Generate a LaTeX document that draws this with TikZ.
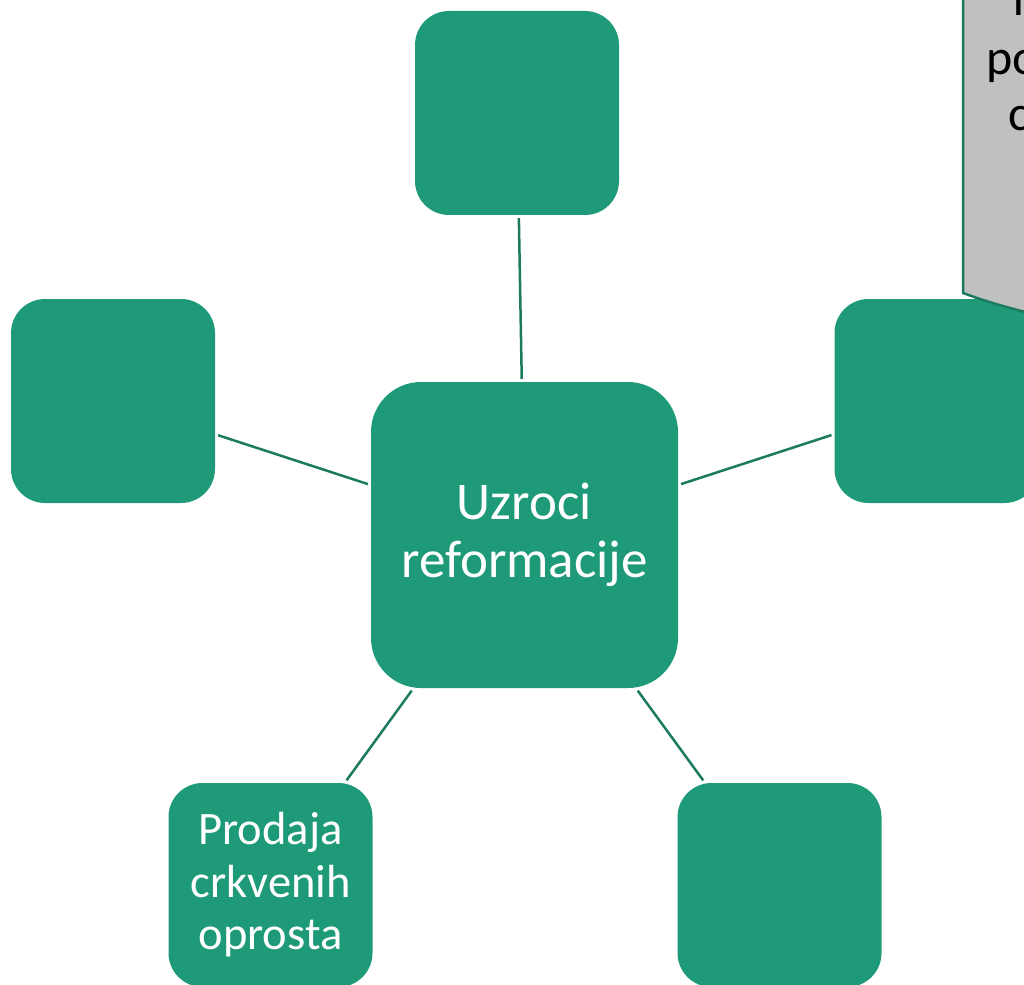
\documentclass[tikz,border=0pt]{standalone}
\usepackage{fontspec}
\setmainfont{Carlito}
\definecolor{boxgreen}{HTML}{1F9A78}
\definecolor{linegreen}{HTML}{1B7A5F}
\definecolor{callgrey}{HTML}{C0C0C0}
\begin{document}
\begin{tikzpicture}[x=1pt,y=-1pt,
  box/.style={fill=boxgreen, draw=none, rounded corners=34pt, minimum width=204pt, minimum height=204pt, inner sep=0pt, text=white, align=center, font=\fontsize{46.5}{52.5}\selectfont},
  hub/.style={box, minimum width=307pt, minimum height=306pt, rounded corners=50pt, font=\fontsize{53}{58}\selectfont},
  link/.style={draw=linegreen, line width=2.5pt, shorten >=3pt, shorten <=3pt},
  calltext/.style={anchor=base west, inner sep=0pt, text=black, font=\fontsize{50}{57}\selectfont}]
\useasboundingbox (0,0) rectangle (1024,984);
\clip (0,0) rectangle (1024,984);
\node[hub] (hub) at (524.5,535) {Uzroci\\reformacije};
\node[box] (top) at (517,113) {};
\node[box] (left) at (113,401) {};
\node[box] (right) at (936.5,401) {};
\node[box] (bl) at (270.5,885) {Prodaja\\crkvenih\\oprosta};
\node[box] (br) at (779.5,885) {};
\draw[link] (top) -- (hub);
\draw[link] (left) -- (hub);
\draw[link] (right) -- (hub);
\draw[link] (bl) -- (hub);
\draw[link] (br) -- (hub);
\path[fill=callgrey, draw=linegreen, line width=2.5pt] (963,-10) -- (963,293) .. controls (990,303) and (1010,308) .. (1040,316) -- (1040,-10) -- cycle;
\node[calltext] (c1) at (1013,16) {r};
\node[calltext] (c2) at (986,75) {po};
\node[calltext] (c3) at (1008,131) {c};
\end{tikzpicture}
\end{document}
